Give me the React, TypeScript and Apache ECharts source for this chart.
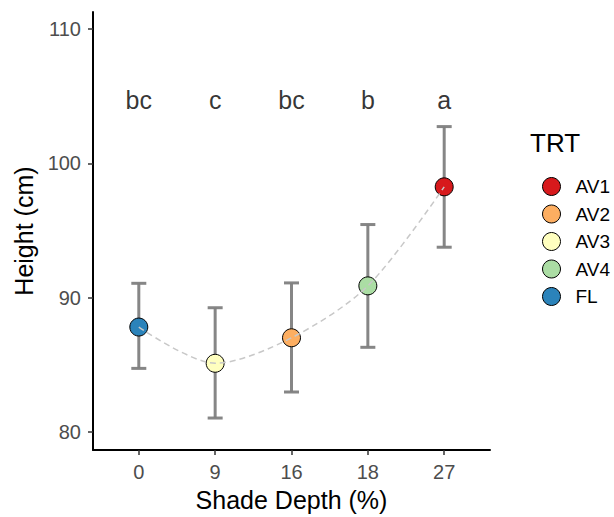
import React, { useEffect, useRef } from "react";
import * as echarts from "echarts";

const categories = ["0", "9", "16", "18", "27"];
const treatments = ["FL", "AV3", "AV2", "AV4", "AV1"];
const means = [87.8, 85.1, 87.0, 90.87, 98.25];
const lower = [84.72, 81.02, 82.96, 86.29, 93.75];
const upper = [91.06, 89.24, 91.09, 95.44, 102.74];
const letters = ["bc", "c", "bc", "b", "a"];
const legendOrder = ["AV1", "AV2", "AV3", "AV4", "FL"];
const yTicks = [80, 90, 100, 110];
const trtColors: Record<string, string> = {
  AV1: "#D7191C",
  AV2: "#FDAE61",
  AV3: "#FFFFBF",
  AV4: "#ABDDA4",
  FL: "#2B83BA",
};

const LETTER_Y = 104.7;
const FONT = "'Liberation Sans', Arial, sans-serif";

export default function App() {
  const ref = useRef<HTMLDivElement>(null);
  useEffect(() => {
    if (!ref.current) return;
    const chart = echarts.init(ref.current, undefined, { renderer: "svg" });
    const xIdx = categories.map((_, i) => i);

    const pointSeries = legendOrder.map((trt) => {
      const i = treatments.indexOf(trt);
      return {
        name: trt,
        type: "scatter",
        symbol: "circle",
        symbolSize: 18,
        z: 3,
        itemStyle: { color: trtColors[trt], borderColor: "#000", borderWidth: 1, opacity: 1 },
        data: [[xIdx[i], means[i]]],
      };
    });

    const option: any = {
      animation: false,
      textStyle: { fontFamily: FONT },
      grid: { left: 93, right: 124, top: 12, bottom: 65, containLabel: false },
      xAxis: {
        type: "value",
        min: -0.6,
        max: 4.6,
        name: "Shade Depth (%)",
        nameLocation: "middle",
        nameGap: 36,
        nameTextStyle: { fontSize: 25, color: "#000", fontFamily: FONT },
        axisLine: { show: true, onZero: false, lineStyle: { color: "#000", width: 2 } },
        axisTick: { show: true, length: 5, lineStyle: { color: "#333", width: 1.5 }, customValues: xIdx },
        axisLabel: {
          show: true,
          customValues: xIdx,
          margin: 12,
          fontSize: 20,
          color: "#4D4D4D",
          fontFamily: FONT,
          formatter: (v: number) => categories[Math.round(v)] ?? "",
        },
        splitLine: { show: false },
      },
      yAxis: {
        type: "value",
        min: 78.63,
        max: 111.28,
        name: "Height (cm)",
        nameLocation: "middle",
        nameGap: 56,
        nameTextStyle: { fontSize: 25, color: "#000", fontFamily: FONT },
        axisLine: { show: true, onZero: false, lineStyle: { color: "#000", width: 2 } },
        axisTick: { show: true, length: 5, lineStyle: { color: "#333", width: 1.5 }, customValues: yTicks },
        axisLabel: {
          show: true,
          customValues: yTicks,
          margin: 12,
          fontSize: 20,
          color: "#4D4D4D",
          fontFamily: FONT,
        },
        splitLine: { show: false },
      },
      legend: {
        orient: "vertical",
        left: 537,
        top: 172,
        padding: 5,
        data: legendOrder,
        itemWidth: 18,
        itemHeight: 18,
        itemGap: 8.5,
        icon: "circle",
        itemStyle: { borderColor: "#000", borderWidth: 1 },
        textStyle: { fontSize: 19, color: "#000", fontFamily: FONT, padding: [0, 0, 0, 10] },
        selectedMode: false,
      },
      graphic: [
        {
          type: "text",
          left: 530,
          top: 130,
          style: { text: "TRT", fontSize: 26, fill: "#000", fontFamily: FONT },
        },
      ],
      series: [
        {
          type: "custom",
          name: "err",
          z: 1,
          data: xIdx.map((i) => [i, lower[i], upper[i]]),
          renderItem: (params: any, api: any) => {
            const x = api.value(0);
            const lo = api.coord([x, api.value(1)]);
            const hi = api.coord([x, api.value(2)]);
            const half = 7.5;
            const style = { stroke: "#7F7F7F", lineWidth: 3, opacity: 0.95 };
            return {
              type: "group",
              children: [
                { type: "line", shape: { x1: lo[0], y1: lo[1], x2: hi[0], y2: hi[1] }, style },
                { type: "line", shape: { x1: lo[0] - half, y1: lo[1], x2: lo[0] + half, y2: lo[1] }, style },
                { type: "line", shape: { x1: hi[0] - half, y1: hi[1], x2: hi[0] + half, y2: hi[1] }, style },
              ],
            };
          },
        },
        ...pointSeries,
        {
          type: "line",
          name: "trend",
          z: 4,
          smooth: 0.3,
          symbol: "none",
          silent: true,
          lineStyle: { color: "#C8C8C8", width: 1.5, type: [6, 4] },
          data: xIdx.map((i) => [i, means[i]]),
        },
        {
          type: "scatter",
          name: "letters",
          z: 5,
          symbolSize: 0,
          silent: true,
          data: xIdx.map((i) => [i, LETTER_Y]),
          label: {
            show: true,
            position: "inside",
            fontSize: 25,
            color: "#000",
            fontFamily: FONT,
            formatter: (p: any) => letters[p.dataIndex],
          },
        },
      ],
    };
    chart.setOption(option);
    return () => chart.dispose();
  }, []);
  return (
    <div
      ref={ref}
      style={{ position: "absolute", left: 0, top: 0, width: 614, height: 517 }}
    />
  );
}
